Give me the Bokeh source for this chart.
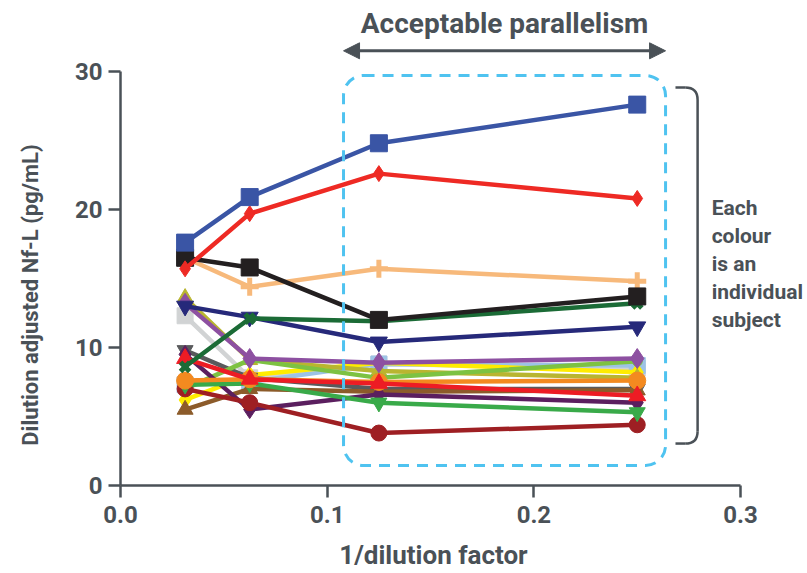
import math
from bokeh.plotting import figure
from bokeh.models import (BoxAnnotation, Label, Arrow, NormalHead, FixedTicker,
                          CustomJSTickFormatter, Range1d)
from bokeh.embed import file_html
from bokeh.resources import INLINE

# ---- data ----
inv_dilution = [0.03125, 0.0625, 0.125, 0.25]

s_blue = [17.6, 20.9, 24.8, 27.6]
s_red_diamond = [15.7, 19.7, 22.6, 20.8]
s_black = [16.5, 15.8, 12.0, 13.7]
s_light_orange = [16.5, 14.4, 15.7, 14.8]
s_dark_green = [8.6, 12.1, 11.9, 13.2]
s_navy = [13.0, 12.2, 10.4, 11.5]
s_purple = [13.2, 9.2, 8.9, 9.2]
s_olive = [13.6, 9.1, 8.3, 7.8]
s_light_gray = [12.3, 7.8, 8.8, 8.5]
s_light_blue = [7.3, 7.5, 8.8, 8.7]
s_dark_gray = [9.8, 7.8, 7.0, 7.0]
s_red_triangle = [9.2, 7.7, 7.4, 6.5]
s_orange = [7.6, 7.7, 7.5, 7.6]
s_light_green = [7.0, 9.1, 7.8, 9.0]
s_green = [7.3, 7.4, 6.0, 5.3]
s_yellow = [6.2, 8.0, 8.9, 8.2]
s_brown = [5.5, 7.0, 6.8, 6.9]
s_dark_red = [7.0, 6.0, 3.8, 4.4]
s_dark_purple = [9.5, 5.5, 6.6, 6.0]

x_ticks = [0, 0.1, 0.2, 0.3]
y_ticks = [0, 10, 20, 30]
bracket_lines = ["Each", "colour", "is an", "individual", "subject"]

series = [
    (s_light_gray, "#D1D3D4", "square", 16),
    (s_light_blue, "#9DC3E6", "square", 16),
    (s_yellow, "#FFEC00", "diamond", 18),
    (s_olive, "#B9B530", "triangle", 16),
    (s_dark_gray, "#595A5C", "inverted_triangle", 16),
    (s_brown, "#8C5B2A", "triangle", 16),
    (s_light_green, "#7DC242", "circle", 10),
    (s_dark_purple, "#5B1F5F", "diamond", 18),
    (s_dark_red, "#9E1F23", "circle", 16),
    (s_green, "#39AA49", "inverted_triangle", 16),
    (s_orange, "#F38A20", "circle", 17),
    (s_red_triangle, "#ED1C24", "triangle", 17),
    (s_purple, "#8D50A1", "diamond", 20),
    (s_navy, "#26297A", "inverted_triangle", 17),
    (s_dark_green, "#1B6B36", "x", 13),
    (s_light_orange, "#F7B97B", "cross", 18),
    (s_black, "#231F20", "square", 17),
    (s_red_diamond, "#EE2A24", "diamond", 16),
    (s_blue, "#3A55A5", "square", 17),
]

AX = "#4A5157"
FONT = "Roboto"

# frame covers the whole canvas; axes are pinned at data 0
p = figure(width=807, height=573, output_backend="svg", toolbar_location=None,
           x_range=Range1d(-0.05806, 0.33237), y_range=Range1d(-6.377, 35.145),
           min_border_left=0, min_border_right=0, min_border_top=0,
           min_border_bottom=0)
p.outline_line_color = None
p.grid.visible = False
p.background_fill_color = "white"

for vals, col, mk, sz in series:
    p.line(inv_dilution, vals, line_color=col, line_width=4.5)
    if mk in ("cross", "x"):
        p.scatter(inv_dilution, vals, marker=mk, size=sz, line_color=col, line_width=5)
    else:
        p.scatter(inv_dilution, vals, marker=mk, size=sz, fill_color=col, line_color=col)

# axes
for ax in (p.xaxis, p.yaxis):
    ax.fixed_location = 0
    ax.axis_line_color = AX
    ax.axis_line_width = 2.5
    ax.major_tick_line_color = AX
    ax.major_tick_line_width = 2.5
    ax.major_tick_out = 12
    ax.major_tick_in = 0
    ax.minor_tick_line_color = None
    ax.major_label_text_color = AX
    ax.major_label_text_font = FONT
    ax.major_label_text_font_size = "24px"
    ax.major_label_text_font_style = "bold"
    ax.axis_label = None

p.xaxis.bounds = (0, 0.3)
p.yaxis.bounds = (0, 30)
p.xaxis.ticker = FixedTicker(ticks=x_ticks)
p.yaxis.ticker = FixedTicker(ticks=y_ticks)
p.xaxis.formatter = CustomJSTickFormatter(code="return tick.toFixed(1);")
p.xaxis.major_label_standoff = 9
p.yaxis.major_label_standoff = 6

# axis titles
p.add_layout(Label(x=0.1514, y=-5.05, text="1/dilution factor",
                   text_align="center", text_baseline="middle",
                   text_font=FONT, text_font_size="26px", text_font_style="bold",
                   text_color=AX))
p.add_layout(Label(x=-0.0435, y=13.8, text="Dilution adjusted Nf-L (pg/mL)",
                   angle=math.pi / 2, text_align="center", text_baseline="middle",
                   text_font=FONT, text_font_size="22px", text_font_style="bold",
                   text_color=AX))

# dashed rounded region
p.add_layout(BoxAnnotation(left=0.1079, right=0.2637, bottom=1.45, top=29.71,
                           fill_alpha=0, line_color="#4FC3F0", line_alpha=1,
                           line_width=3, line_dash="11 8", border_radius=20))

# arrow + title
p.add_layout(Arrow(x_start=0.1079, x_end=0.2637, y_start=31.5, y_end=31.5,
                   line_color=AX, line_width=3,
                   start=NormalHead(size=16, fill_color=AX, line_color=AX),
                   end=NormalHead(size=16, fill_color=AX, line_color=AX)))
p.add_layout(Label(x=0.1858, y=33.5, text="Acceptable parallelism",
                   text_align="center", text_baseline="middle",
                   text_font=FONT, text_font_size="28px", text_font_style="bold",
                   text_color=AX))

# bracket
bx0, bx1, r = 0.2685, 0.2792, 0.006
by_top, by_bot, ry = 28.84, 3.04, 0.9
p.line([bx0, bx1 - r], [by_top, by_top], line_color=AX, line_width=2.5)
p.line([bx0, bx1 - r], [by_bot, by_bot], line_color=AX, line_width=2.5)
p.line([bx1, bx1], [by_top - ry, by_bot + ry], line_color=AX, line_width=2.5)
p.quadratic(x0=[bx1 - r, bx1], y0=[by_top, by_bot + ry], x1=[bx1, bx1 - r],
            y1=[by_top - ry, by_bot], cx=[bx1, bx1], cy=[by_top, by_bot],
            line_color=AX, line_width=2.5)

for i, t in enumerate(bracket_lines):
    p.add_layout(Label(x=0.2860, y=(485 - 208 - 28 * i) / 13.8, text=t,
                       text_align="left", text_baseline="middle",
                       text_font=FONT, text_font_size="21px", text_font_style="bold",
                       text_color=AX))

open("out.html", "w").write(file_html(p, INLINE))
